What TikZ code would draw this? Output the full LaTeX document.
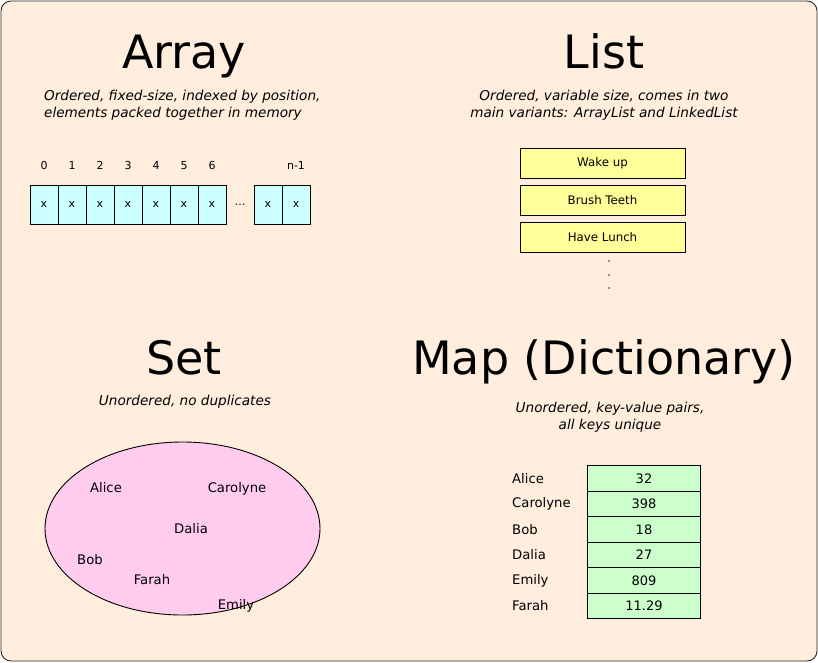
\documentclass[tikz,border=0pt]{standalone}
\usepackage{fontspec}
\setmainfont{DejaVu Sans}
\usepackage{xcolor}
\usepackage{tikz}
\usetikzlibrary{positioning, shapes.geometric}
\definecolor{peach}{RGB}{255,237,222}
\definecolor{cellcyan}{RGB}{204,255,255}
\definecolor{itemyellow}{RGB}{255,255,153}
\definecolor{setpink}{RGB}{255,204,238}
\definecolor{valgreen}{RGB}{204,255,204}
\tikzset{
    title/.style={font=\fontsize{46}{50}\selectfont, inner sep=0pt},
    note/.style={font=\itshape\fontsize{13.6}{17}\selectfont, inner sep=0pt},
    cell/.style={rectangle, draw=black, line width=0.9pt, fill=cellcyan, minimum width=28pt, minimum height=39pt, outer sep=0pt, inner sep=0pt, font=\fontsize{11}{13}\selectfont},
    idx/.style={font=\fontsize{11}{13}\selectfont, inner sep=1pt},
    item/.style={rectangle, draw=black, line width=0.9pt, fill=itemyellow, minimum width=165pt, minimum height=30pt, outer sep=0pt, font=\fontsize{11.8}{14}\selectfont},
    dot/.style={circle, fill=black!80, inner sep=0pt, minimum size=1.6pt},
    setshape/.style={ellipse, draw=black, line width=0.9pt, fill=setpink, minimum width=275pt, minimum height=173pt},
    person/.style={font=\fontsize{13.2}{15}\selectfont, inner sep=0pt},
    val/.style={rectangle, draw=black, line width=0.9pt, fill=valgreen, minimum width=113pt, minimum height=25.5pt, outer sep=0pt, inner sep=0pt, font=\fontsize{13}{15}\selectfont}
}
\begin{document}
\begin{tikzpicture}[x=1pt, y=-1pt]

    % Frame
    \useasboundingbox (0,0) rectangle (818,662);
    \draw[rounded corners=10pt, fill=peach, draw=black!85, line width=0.9pt] (1,1) rectangle (817,661);

    % Array
    \node[title, anchor=base] (ArrayT) at (184,68) {Array};
    \node[note, align=left, anchor=west] (ArrayN) at (44,105.5) {Ordered, fixed-size, indexed by position,\\elements packed together in memory};

    \node[cell] (A0) at (44,204.5) {x};
    \node[cell, right=0pt of A0] (A1) {x};
    \node[cell, right=0pt of A1] (A2) {x};
    \node[cell, right=0pt of A2] (A3) {x};
    \node[cell, right=0pt of A3] (A4) {x};
    \node[cell, right=0pt of A4] (A5) {x};
    \node[cell, right=0pt of A5] (A6) {x};
    \node[cell, draw=none, fill=none, right=0pt of A6] (Gap) {\dots};
    \node[cell, right=0pt of Gap] (A7) {x};
    \node[cell, right=0pt of A7] (A8) {x};

    \node[idx, above=14pt of A0] {0};
    \node[idx, above=14pt of A1] {1};
    \node[idx, above=14pt of A2] {2};
    \node[idx, above=14pt of A3] {3};
    \node[idx, above=14pt of A4] {4};
    \node[idx, above=14pt of A5] {5};
    \node[idx, above=14pt of A6] {6};
    \node[idx, above=14pt of A8] {n-1};

    % List
    \node[title, anchor=base] (ListT) at (604,68) {List};
    \node[note, align=center] (ListN) at (604,105.5) {Ordered, variable size, comes in two\\main variants: ArrayList and LinkedList};

    \node[item] (L1) at (602.5,163) {Wake up};
    \node[item, below=7pt of L1] (L2) {Brush Teeth};
    \node[item, below=7pt of L2] (L3) {Have Lunch};
    \node[dot] (D1) at (609,261) {};
    \node[dot] (D2) at (609,275) {};
    \node[dot] (D3) at (609,288) {};

    % Set
    \node[title, anchor=base] (SetT) at (184,374) {Set};
    \node[note] (SetN) at (185,402) {Unordered, no duplicates};

    \node[setshape] (SetBox) at (182.5,528.5) {};
    \node[person, anchor=base] (SAlice) at (106,492) {Alice};
    \node[person, anchor=base] (SCarolyne) at (237,492) {Carolyne};
    \node[person, anchor=base] (SDalia) at (191,533) {Dalia};
    \node[person, anchor=base] (SBob) at (90,564) {Bob};
    \node[person, anchor=base] (SFarah) at (152,584) {Farah};
    \node[person, anchor=base] (SEmily) at (236,609) {Emily};

    % Map
    \node[title, anchor=base] (MapT) at (604,374) {Map (Dictionary)};
    \node[note, align=center] (MapN) at (610,417) {Unordered, key-value pairs,\\all keys unique};

    \node[val] (M1) at (644,478.5) {32};
    \node[val, below=0pt of M1] (M2) {398};
    \node[val, below=0pt of M2] (M3) {18};
    \node[val, below=0pt of M3] (M4) {27};
    \node[val, below=0pt of M4] (M5) {809};
    \node[val, below=0pt of M5] (M6) {11.29};

    \coordinate (KX) at (512,0);
    \node[person, anchor=west] (KAlice) at (M1 -| KX) {Alice};
    \node[person, anchor=west] (KCarolyne) at (M2 -| KX) {Carolyne};
    \node[person, anchor=west] (KBob) at (M3 -| KX) {Bob};
    \node[person, anchor=west] (KDalia) at (M4 -| KX) {Dalia};
    \node[person, anchor=west] (KEmily) at (M5 -| KX) {Emily};
    \node[person, anchor=west] (KFarah) at (M6 -| KX) {Farah};

\end{tikzpicture}
\end{document}
